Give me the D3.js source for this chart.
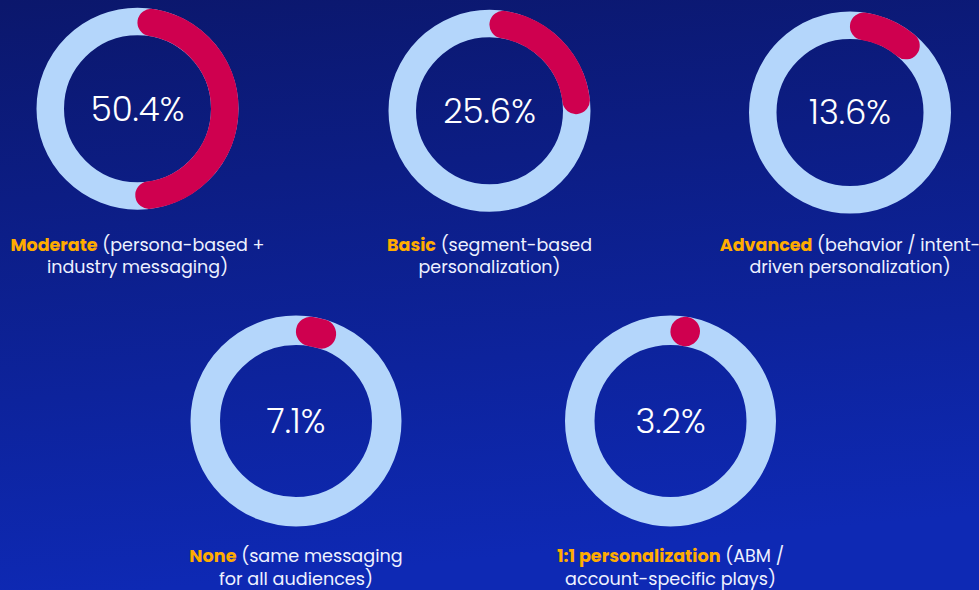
<!DOCTYPE html>
<html>
<head>
<meta charset="utf-8">
<script src="https://cdn.jsdelivr.net/npm/d3@7"></script>
<style>
  html, body { margin: 0; padding: 0; background: #0c1b78; }
  svg { display: block; }
</style>
</head>
<body>
<div id="chart"></div>
<script>
// share of respondents per personalization level
const categories = ["Moderate", "Basic", "Advanced", "None", "1:1 personalization"];
const values = [50.4, 25.6, 13.6, 7.1, 3.2];
const descLine1 = ["(persona-based +", "(segment-based", "(behavior / intent-", "(same messaging", "(ABM /"];
const descLine2 = ["industry messaging)", "personalization)", "driven personalization)", "for all audiences)", "account-specific plays)"];

const width = 979, height = 590;

// where each ring sits (two rows, second row a little bigger)
const layout = [
    { cx: 137.5, cy: 108.7, ro: 101, ri: 73.5, lab: 251 },
    { cx: 489.5, cy: 110.8, ro: 101, ri: 73.5, lab: 251 },
    { cx: 850,   cy: 112.5, ro: 101, ri: 73.5, lab: 251 },
    { cx: 296,   cy: 421,   ro: 105.5, ri: 76, lab: 562 },
    { cx: 670.5, cy: 421,   ro: 105.5, ri: 76, lab: 562 }
];

const fontStack = "Poppins, Inter, 'Noto Sans', sans-serif";

const svg = d3.select("#chart").append("svg")
    .attr("width", width)
    .attr("height", height);

const defs = svg.append("defs");
const grad = defs.append("linearGradient")
    .attr("id", "bg")
    .attr("x1", 0).attr("y1", 0)
    .attr("x2", 0.15).attr("y2", 1);
grad.append("stop").attr("offset", "0%").attr("stop-color", "#0b176c");
grad.append("stop").attr("offset", "100%").attr("stop-color", "#0e29b4");

svg.append("rect")
    .attr("width", width)
    .attr("height", height)
    .attr("fill", "url(#bg)");

const angle = d3.scaleLinear().domain([0, 100]).range([0, 2 * Math.PI]);

const rings = svg.selectAll("g.ring")
    .data(values)
    .enter().append("g")
    .attr("class", "ring")
    .attr("transform", (d, i) => `translate(${layout[i].cx},${layout[i].cy})`);

// light track
rings.append("circle")
    .attr("r", (d, i) => (layout[i].ro + layout[i].ri) / 2)
    .attr("fill", "none")
    .attr("stroke", "#b4d6fb")
    .attr("stroke-width", (d, i) => layout[i].ro - layout[i].ri);

// value arc with round ends kept inside its angle
rings.append("path")
    .attr("d", (d, i) => {
        const L = layout[i];
        const r = (L.ro + L.ri) / 2;
        const capAng = ((L.ro - L.ri) / 2) / r;
        const a0 = capAng;
        const a1 = Math.max(a0 + 0.0005, angle(d) - capAng);
        const p = d3.path();
        p.arc(0, 0, r, a0 - Math.PI / 2, a1 - Math.PI / 2);
        return p.toString();
    })
    .attr("fill", "none")
    .attr("stroke", "#cf004f")
    .attr("stroke-linecap", "round")
    .attr("stroke-width", (d, i) => layout[i].ro - layout[i].ri);

rings.append("text")
    .attr("text-anchor", "middle")
    .attr("dy", "0.35em")
    .attr("fill", "#ffffff")
    .style("font-family", fontStack)
    .style("font-weight", 300)
    .style("font-size", "34px")
    .text(d => d3.format(".1f")(d) + "%");

const labels = svg.selectAll("text.label")
    .data(categories)
    .enter().append("text")
    .attr("class", "label")
    .attr("text-anchor", "middle")
    .style("font-family", fontStack)
    .style("font-size", (d, i) => i < 3 ? "17.5px" : "17.6px")
    .attr("fill", "#eef1ff");

labels.append("tspan")
    .attr("x", (d, i) => layout[i].cx)
    .attr("y", (d, i) => layout[i].lab)
    .style("font-weight", 700)
    .attr("fill", "#ffac00")
    .text(d => d);

labels.append("tspan")
    .text((d, i) => " " + descLine1[i]);

labels.append("tspan")
    .attr("x", (d, i) => layout[i].cx)
    .attr("y", (d, i) => layout[i].lab + (i < 3 ? 21.7 : 23))
    .text((d, i) => descLine2[i]);
</script>
</body>
</html>
